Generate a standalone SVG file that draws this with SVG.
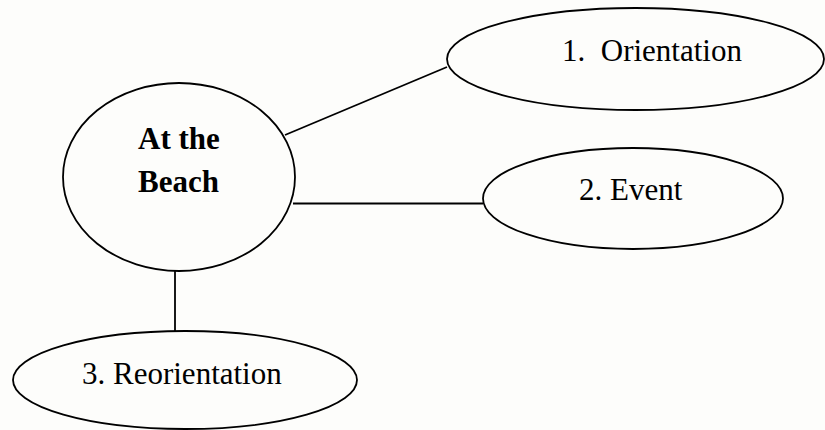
<svg xmlns="http://www.w3.org/2000/svg" width="825" height="430" viewBox="0 0 825 430">
<style>
.shape{fill:none;stroke:#000;stroke-width:1.8}
.edge{stroke:#000;stroke-width:1.8;fill:none}
.lbl{font-family:"Liberation Serif","Times New Roman",serif;font-size:31px;fill:#000;white-space:pre}
.bold{font-weight:bold}
</style>
<rect width="825" height="430" fill="#fdfdfb"/>
<g id="connectors">
<line class="edge" x1="285" y1="135" x2="447" y2="67"/>
<line class="edge" x1="293" y1="203.5" x2="483" y2="203.5"/>
<line class="edge" x1="175" y1="271" x2="175" y2="331"/>
</g>
<g id="main">
<ellipse class="shape" cx="179" cy="177" rx="116" ry="94"/>
<text class="lbl bold" x="138" y="149">At the</text>
<text class="lbl bold" x="138" y="192">Beach</text>
</g>
<g id="orientation">
<ellipse class="shape" cx="635.5" cy="59" rx="188.5" ry="51"/>
<text class="lbl" x="562" y="61" xml:space="preserve">1.  Orientation</text>
</g>
<g id="event">
<ellipse class="shape" cx="633" cy="198.5" rx="150" ry="50.5"/>
<text class="lbl" x="579" y="200">2. Event</text>
</g>
<g id="reorientation">
<ellipse class="shape" cx="185" cy="380" rx="172" ry="49"/>
<text class="lbl" x="82" y="384">3. Reorientation</text>
</g>
</svg>
